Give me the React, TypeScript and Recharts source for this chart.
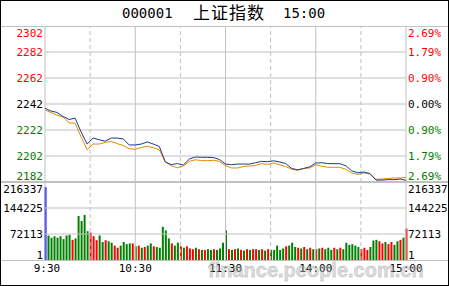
import React from 'react';
import { Bar, BarChart, Cell, Line, LineChart, ReferenceLine, XAxis, YAxis } from 'recharts';

// 上证指数 分时图: 指数(蓝) + 均价(橙), 下方成交量柱

const priceMinutes = [
  0, 4, 8, 12, 16, 20, 24, 28, 32, 36,
  40, 44, 48, 52, 56, 60, 64, 68, 72, 76,
  80, 84, 88, 92, 96, 100, 104, 108, 112, 116,
  120, 124, 128, 132, 136, 140, 144, 148, 152, 156,
  160, 164, 168, 172, 176, 180, 184, 188, 192, 196,
  200, 204, 208, 212, 216, 220, 224, 228, 232, 236,
  240,
];

const indexPrice = [
  2238.7, 2236.6, 2235.5, 2232.4, 2230.1, 2231.1, 2220.5, 2211.2, 2215.8, 2214.5,
  2213.4, 2215.8, 2215.8, 2215.1, 2210.5, 2210.5, 2211.2, 2212.8, 2211.2, 2209.3,
  2197.4, 2195.3, 2196.2, 2195.1, 2199.7, 2201.2, 2201.0, 2201.0, 2200.8, 2199.3,
  2195.8, 2195.3, 2195.8, 2195.8, 2195.8, 2196.8, 2197.9, 2197.6, 2198.3, 2197.4,
  2196.2, 2192.4, 2191.4, 2192.4, 2193.7, 2196.6, 2196.8, 2196.2, 2196.1, 2196.1,
  2194.5, 2190.5, 2189.1, 2189.7, 2188.5, 2183.5, 2183.5, 2183.8, 2183.8, 2184.3,
  2183.3,
];

const avgPrice = [
  2237.4, 2235.5, 2233.4, 2232.0, 2227.5, 2227.2, 2216.6, 2206.8, 2211.2, 2211.2,
  2212.4, 2213.2, 2211.5, 2210.1, 2207.6, 2207.2, 2208.5, 2209.5, 2208.4, 2206.8,
  2197.4, 2194.5, 2193.0, 2194.3, 2197.9, 2199.1, 2198.5, 2198.4, 2198.7, 2197.9,
  2194.5, 2192.8, 2192.8, 2193.9, 2194.3, 2194.7, 2196.2, 2195.5, 2196.6, 2195.2,
  2193.9, 2191.8, 2191.0, 2192.4, 2192.8, 2195.3, 2194.1, 2193.3, 2193.3, 2193.3,
  2191.8, 2188.9, 2187.8, 2188.9, 2188.2, 2184.1, 2184.3, 2184.7, 2185.1, 2185.1,
  2185.6,
];

const priceTicks = [2182, 2202, 2222, 2242, 2262, 2282, 2302];
const pctLabels = ['2.69%', '1.79%', '0.90%', '0.00%', '0.90%', '1.79%', '2.69%'];

const volumeMinutes = [
  0, 2, 4, 6, 8, 10, 12, 14, 16, 18,
  20, 22, 24, 26, 28, 30, 32, 34, 36, 38,
  40, 42, 44, 46, 48, 50, 52, 54, 56, 58,
  60, 62, 64, 66, 68, 70, 72, 74, 76, 78,
  80, 82, 84, 86, 88, 90, 92, 94, 96, 98,
  100, 102, 104, 106, 108, 110, 112, 114, 116, 118,
  120, 122, 124, 126, 128, 130, 132, 134, 136, 138,
  140, 142, 144, 146, 148, 150, 152, 154, 156, 158,
  160, 162, 164, 166, 168, 170, 172, 174, 176, 178,
  180, 182, 184, 186, 188, 190, 192, 194, 196, 198,
  200, 202, 204, 206, 208, 210, 212, 214, 216, 218,
  220, 222, 224, 226, 228, 230, 232, 234, 236, 238,
  240,
];

const volumes = [
  202000, 68000, 62000, 66000, 62000, 66000, 58000, 68000, 70000, 56000,
  60000, 122000, 108000, 125000, 80000, 76000, 66000, 55000, 68000, 50000,
  55000, 52000, 48000, 40000, 34000, 40000, 50000, 44000, 46000, 46000,
  38000, 40000, 34000, 36000, 40000, 46000, 38000, 36000, 34000, 92000,
  82000, 60000, 46000, 40000, 48000, 38000, 34000, 38000, 32000, 30000,
  34000, 30000, 28000, 28000, 30000, 28000, 30000, 28000, 32000, 48000,
  82000, 30000, 28000, 30000, 32000, 28000, 26000, 30000, 28000, 30000,
  30000, 28000, 30000, 26000, 30000, 28000, 28000, 40000, 28000, 32000,
  38000, 40000, 48000, 36000, 34000, 32000, 36000, 30000, 34000, 30000,
  30000, 32000, 34000, 30000, 34000, 28000, 34000, 30000, 34000, 30000,
  48000, 42000, 44000, 40000, 36000, 30000, 34000, 28000, 36000, 54000,
  56000, 52000, 46000, 50000, 44000, 50000, 42000, 52000, 56000, 62000,
  87000,
];

// b = 开盘, r = 上涨, g = 下跌
const volumeSide = [
  'b', 'g', 'g', 'g', 'g', 'g', 'g', 'g', 'g', 'r',
  'g', 'g', 'g', 'g', 'g', 'r', 'r', 'r', 'g', 'g',
  'r', 'g', 'g', 'r', 'r', 'g', 'g', 'g', 'g', 'r',
  'g', 'r', 'g', 'r', 'g', 'g', 'r', 'g', 'g', 'g',
  'g', 'g', 'r', 'g', 'g', 'r', 'g', 'r', 'r', 'r',
  'g', 'r', 'g', 'r', 'g', 'g', 'r', 'g', 'g', 'g',
  'g', 'r', 'g', 'r', 'g', 'r', 'g', 'r', 'g', 'r',
  'r', 'g', 'r', 'g', 'r', 'g', 'g', 'g', 'g', 'g',
  'r', 'g', 'g', 'g', 'r', 'g', 'r', 'g', 'r', 'g',
  'r', 'g', 'r', 'g', 'g', 'g', 'r', 'g', 'r', 'g',
  'g', 'g', 'g', 'g', 'g', 'r', 'r', 'r', 'g', 'g',
  'g', 'r', 'r', 'g', 'r', 'r', 'g', 'g', 'r', 'g',
  'r',
];

const volumeTicks = [1, 72113, 144225, 216337];
const timeTicks = [0, 60, 120, 180, 240];
const timeLabels = ['9:30', '10:30', '11:30', '14:00', '15:00'];
const solidMinutes = [0, 60, 120, 180, 240];
const dashedMinutes = [30, 90, 150, 210];

const GRID = '#c0c0c0';
const RED = '#ff0000';
const GREEN = '#008000';
const MONO = '"DejaVu Sans Mono", monospace';
const tickColors = [GREEN, GREEN, GREEN, '#000000', RED, RED, RED];
const sideColor: Record<string, string> = { b: '#0000ff', r: RED, g: GREEN };

const priceData = priceMinutes.map((t, i) => ({ t, index: indexPrice[i], avg: avgPrice[i] }));
const volumeData = volumeMinutes.map((t, i) => ({ t, vol: volumes[i], side: volumeSide[i] }));

// left and right labels drawn together from the one y axis
function PriceTick(props: any) {
  const { y, payload } = props;
  const i = priceTicks.indexOf(payload.value);
  const shift = i === priceTicks.length - 1 ? 7 : i === 0 ? -6 : 0;
  return (
    <g fontSize={11} fontFamily={MONO} fill={tickColors[i]}>
      <text x={43} y={y + shift} dy="0.36em" textAnchor="end">{payload.value}</text>
      <text x={408} y={y + shift} dy="0.36em" textAnchor="start">{pctLabels[i]}</text>
    </g>
  );
}

function VolumeTick(props: any) {
  const { y, payload } = props;
  const i = volumeTicks.indexOf(payload.value);
  const shift = i === volumeTicks.length - 1 ? 7 : i === 0 ? -5 : 0;
  return (
    <g fontSize={11} fontFamily={MONO} fill="#000">
      <text x={43} y={y + shift} dy="0.36em" textAnchor="end">{payload.value}</text>
      <text x={408} y={y + shift} dy="0.36em" textAnchor="start">{payload.value}</text>
    </g>
  );
}

function TimeTick(props: any) {
  const { x, payload } = props;
  const i = timeTicks.indexOf(payload.value);
  return (
    <text x={x + (i === 0 ? 2 : 0)} y={86} dy="0.36em" textAnchor="middle" fill="#000" fontSize={11} fontFamily={MONO}>
      {timeLabels[i]}
    </text>
  );
}

function hline(top: number, h = 1): React.CSSProperties {
  return { position: 'absolute', left: 0, top, width: 449, height: h, background: GRID };
}

export default function App() {
  return (
    <div
      style={{
        position: 'absolute',
        left: 0,
        top: 0,
        width: 449,
        height: 286,
        background: '#fff',
        boxSizing: 'border-box',
        border: '1px solid #000',
        overflow: 'hidden',
      }}
    >
      <div style={hline(25)} />
      <div style={hline(180, 2)} />
      <div style={hline(259)} />

      <div style={{ position: 'absolute', left: -1, top: -1 }}>
        <LineChart width={450} height={182} data={priceData} margin={{ top: 26, right: 44, bottom: 0, left: 0 }}>
          <XAxis type="number" dataKey="t" domain={[0, 240]} hide />
          <YAxis
            yAxisId="price"
            orientation="left"
            width={45}
            domain={[2182, 2302]}
            ticks={priceTicks}
            interval={0}
            axisLine={false}
            tickLine={false}
            tickSize={0}
            tick={<PriceTick />}
          />
          {priceTicks.slice(1, -1).map((v) => (
            <ReferenceLine key={v} yAxisId="price" y={v} stroke={GRID} />
          ))}
          {dashedMinutes.map((m) => (
            <ReferenceLine key={'d' + m} yAxisId="price" x={m} stroke={GRID} strokeDasharray="4 3" />
          ))}
          {solidMinutes.map((m) => (
            <ReferenceLine key={'s' + m} yAxisId="price" x={m} stroke={GRID} />
          ))}
          <Line yAxisId="price" type="linear" dataKey="avg" stroke="#e68a00" strokeWidth={1} dot={false} isAnimationActive={false} />
          <Line yAxisId="price" type="linear" dataKey="index" stroke="#1c3a8c" strokeWidth={1} dot={false} isAnimationActive={false} />
        </LineChart>
      </div>

      <div style={{ position: 'absolute', left: -1, top: 181 }}>
        <BarChart width={450} height={104} data={volumeData} margin={{ top: 0, right: 44, bottom: 0, left: 0 }}>
          <XAxis
            type="number"
            dataKey="t"
            domain={[0, 240]}
            ticks={timeTicks}
            interval={0}
            height={26}
            axisLine={false}
            tickLine={false}
            tick={<TimeTick />}
          />
          <YAxis
            yAxisId="vol"
            orientation="left"
            width={45}
            domain={[1, 216337]}
            ticks={volumeTicks}
            interval={0}
            axisLine={false}
            tickLine={false}
            tickSize={0}
            tick={<VolumeTick />}
          />
          {volumeTicks.slice(1, -1).map((v) => (
            <ReferenceLine key={v} yAxisId="vol" y={v} stroke={GRID} />
          ))}
          {dashedMinutes.map((m) => (
            <ReferenceLine key={'d' + m} yAxisId="vol" x={m} stroke={GRID} strokeDasharray="4 3" />
          ))}
          {solidMinutes.map((m) => (
            <ReferenceLine key={'s' + m} yAxisId="vol" x={m} stroke={GRID} />
          ))}
          <Bar yAxisId="vol" dataKey="vol" barSize={2} isAnimationActive={false}>
            {volumeData.map((d, i) => (
              <Cell key={i} fill={sideColor[d.side]} />
            ))}
          </Bar>
        </BarChart>
      </div>

      <svg width={450} height={286} style={{ position: 'absolute', left: -1, top: -1, pointerEvents: 'none' }}>
        <text x={122} y={18} fontSize={14} fontFamily={MONO} fill="#000">000001</text>
        <text x={193} y={19} fontSize={17} fontFamily='"Noto Sans CJK SC", sans-serif' fill="#000" letterSpacing={1}>上证指数</text>
        <text x={283} y={18} fontSize={14} fontFamily={MONO} fill="#000">15:00</text>
        <text
          x={208}
          y={277}
          fontSize={20}
          fontWeight="bold"
          fontFamily='"Liberation Sans", sans-serif'
          fill="#b4b4b4"
          fillOpacity={0.45}
          stroke="#8c8c8c"
          strokeOpacity={0.35}
          strokeWidth={0.8}
        >
          finance.people.com.cn
        </text>
      </svg>
    </div>
  );
}
